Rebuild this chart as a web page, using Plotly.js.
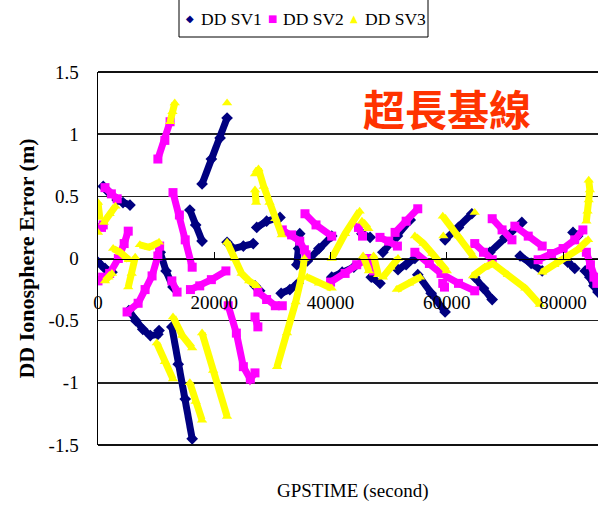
<!DOCTYPE html>
<html>
<head>
<meta charset="utf-8">
<script src="https://cdn.plot.ly/plotly-3.0.1.min.js"></script>
<style>html,body{margin:0;padding:0;background:#fff;}#chart{width:598px;height:506px;}</style>
</head>
<body>
<div id="chart"></div>
<script>
// Series names
const seriesNames = ['DD SV1', 'DD SV2', 'DD SV3'];
// Axis tick labels
const xTickVals = [0, 20000, 40000, 60000, 80000];
const xTickText = ['0', '20000', '40000', '60000', '80000'];
const yTickVals = [-1.5, -1, -0.5, 0, 0.5, 1, 1.5];
const yTickText = ['-1.5', '-1', '-0.5', '0', '0.5', '1', '1.5'];

// DD SV1 values [GPS time (s), error (m)]; null separates arcs
const sv1Points = [
  [0,-0.03],[1200,-0.08],[2400,-0.11], null,
  [900,0.58],[1500,0.55], null,
  [3300,0.47],[4300,0.45],[5500,0.43], null,
  [5300,-0.42],[6500,-0.5],[7700,-0.57],[9000,-0.62],[10300,-0.61],[10500,-0.58], null,
  [10700,0.05],[11700,-0.1],[12900,-0.23], null,
  [12700,-0.55],[13800,-0.85],[15000,-1.13],[16200,-1.45], null,
  [15800,0.39],[16800,0.27],[17900,0.14], null,
  [17900,0.6],[19500,0.8],[21000,0.97],[22200,1.13], null,
  [22200,0.13],[23200,0.08],[25000,0.1],[26700,0.12], null,
  [27300,0.25],[29000,0.3],[31300,0.33], null,
  [27000,-0.22],[27800,-0.26], null,
  [31500,-0.28],[33000,-0.25],[34400,-0.2], null,
  [34200,-0.05],[34500,0.08],[34700,0.2], null,
  [36000,-0.02],[38000,0.08],[40200,0.18], null,
  [40200,-0.15],[42000,-0.11],[44000,-0.07], null,
  [45400,0.2],[46800,0.17], null,
  [47000,-0.15],[48500,-0.2], null,
  [49000,0.05],[51500,0.18],[53700,0.31], null,
  [51600,-0.09],[53000,-0.05],[54500,0.0], null,
  [55000,-0.13],[57300,-0.28],[59700,-0.43], null,
  [59700,0.15],[62000,0.25],[64300,0.36], null,
  [64800,-0.15],[66300,-0.24],[67800,-0.33], null,
  [67400,0.05],[70000,0.17],[72900,0.29], null,
  [72600,0.02],[74500,-0.04],[76400,-0.1], null,
  [80800,-0.03],[82000,-0.08], null,
  [81700,0.21],[82500,0.18], null,
  [83800,-0.1],[84600,-0.15],[85300,-0.22],[86000,-0.27]
];

// DD SV2 values
const sv2Points = [
  [0,-0.18],[800,-0.15], null,
  [600,0.25],[900,0.27], null,
  [1200,0.57],[2300,0.52],[3300,0.48], null,
  [2000,-0.12],[3500,0.0],[4500,0.12],[5200,0.22], null,
  [5000,-0.43],[6900,-0.36],[8100,-0.25],[9300,-0.14],[10300,0.02],[10600,0.1], null,
  [10300,0.8],[11500,0.95],[12400,1.1], null,
  [12700,-0.18],[13600,-0.27], null,
  [12900,0.53],[14000,0.35],[15000,0.15],[16200,-0.07], null,
  [15900,-0.25],[17500,-0.22],[19500,-0.17],[22000,-0.1], null,
  [22400,-0.38],[23800,-0.6],[25000,-0.87],[26200,-0.97],[27000,-0.92], null,
  [27000,-0.47],[27500,-0.55], null,
  [27500,-0.27],[29000,-0.33],[30500,-0.38],[31700,-0.38], null,
  [31700,0.23],[33300,0.19],[34700,0.14],[35500,0.07],[35800,0.03], null,
  [35600,0.36],[37500,0.27],[40200,0.18], null,
  [40000,-0.19],[42500,-0.12],[44500,-0.05],[46300,0.0], null,
  [44800,0.25],[45500,0.18], null,
  [46700,-0.03],[47400,-0.1], null,
  [48500,0.17],[50000,0.14],[51500,0.1], null,
  [51100,0.21],[53000,0.3],[55000,0.4], null,
  [54500,0.05],[57000,-0.04],[59000,-0.12],[62000,-0.2],[64800,-0.26], null,
  [59300,-0.2],[59600,-0.23], null,
  [64800,0.12],[66300,0.05],[67800,-0.01], null,
  [67800,0.32],[69500,0.23],[71200,0.15], null,
  [71700,0.26],[74000,0.18],[76400,0.1], null,
  [75700,-0.01],[78000,0.04],[80000,0.08],[82000,0.15],[83400,0.23], null,
  [84000,0.05],[84700,-0.05],[85300,-0.15],[85800,-0.2]
];

// DD SV3 values
const sv3Points = [
  [0,0.45],[300,0.33], null,
  [0,0.21], null,
  [1000,0.29],[2000,0.36],[3000,0.42], null,
  [1200,-0.18],[1800,-0.15],[2400,-0.12], null,
  [2600,0.08],[3800,0.05],[5300,-0.01], null,
  [5200,-0.23],[5800,-0.12],[6400,0.01], null,
  [7200,0.11],[8800,0.09],[10500,0.13], null,
  [10100,-0.68],[11500,-0.83],[12900,-0.97], null,
  [12400,1.1],[12800,1.18],[13200,1.25], null,
  [12900,-0.47],[14500,-0.62],[16200,-0.72], null,
  [15800,-1.0],[16800,-1.15],[17900,-1.3], null,
  [17900,-0.6],[19800,-0.9],[22200,-1.27], null,
  [22200,1.25], null,
  [22200,0.13],[23500,0.0],[24700,-0.12],[26000,-0.18],[27300,-0.22], null,
  [27000,0.68],[27600,0.72],[28500,0.58],[29500,0.45],[30500,0.32],[31600,0.19], null,
  [27000,0.55],[27200,0.45], null,
  [30800,-0.87],[32500,-0.6],[34000,-0.35],[35000,-0.15],[35500,0.0], null,
  [36000,-0.15],[38000,-0.2],[40200,-0.24], null,
  [40200,0.0],[42500,0.2],[45000,0.38], null,
  [45400,0.3],[46500,0.24], null,
  [45600,0.02],[46600,-0.1], null,
  [47400,0.02],[48200,-0.13], null,
  [49000,-0.15],[50300,-0.07],[51600,0.0], null,
  [51400,-0.25],[53500,-0.2],[55400,-0.15], null,
  [54500,0.18],[56000,0.12],[57500,0.04],[59000,-0.04],[60000,-0.1], null,
  [59300,0.34],[62000,0.18],[64500,0.02], null,
  [59400,0.18], null,
  [64800,0.37], null,
  [64500,-0.14],[66500,-0.07],[67900,-0.04],[70500,-0.13],[73500,-0.24],[76000,-0.37], null,
  [76400,-0.11],[78500,-0.05],[80500,0.0],[82500,0.07],[84300,0.15], null,
  [84400,0.63],[84600,0.55],[84400,0.47],[84200,0.38],[84000,0.3]
];

const colors = ['#000080', '#ff00ff', '#ffff00'];
const symbols = ['diamond', 'square', 'triangle-up'];
const legendGlyphs = ['\u25C6', '\u25A0', '\u25B2'];
const allPoints = [sv1Points, sv2Points, sv3Points];

const serif = 'Liberation Serif, serif';

const traces = [];
allPoints.forEach((pts, i) => {
  traces.push({
    type: 'scatter',
    mode: 'lines+markers',
    name: seriesNames[i],
    x: pts.map(p => p ? p[0] : null),
    y: pts.map(p => p ? p[1] : null),
    line: {color: colors[i], width: 7},
    marker: {color: colors[i], symbol: symbols[i], size: 9},
    connectgaps: false,
    showlegend: false,
    hoverinfo: 'skip'
  });
});

// pixel -> paper helpers for the plot area (l=98, t=72, w=500, h=373)
const px = v => (v - 98) / 500;
const py = v => (445 - v) / 373;

const annotations = [
  {
    xref: 'paper', yref: 'paper', x: 0.698, y: 0.906,
    xanchor: 'center', yanchor: 'middle', showarrow: false,
    text: '<b>超長基線</b>',
    font: {family: 'Noto Sans CJK TC, Noto Sans CJK SC, sans-serif', size: 42, color: '#ff3300'}
  },
  {
    xref: 'paper', yref: 'paper', x: 0.508, y: -0.123,
    xanchor: 'center', yanchor: 'middle', showarrow: false,
    text: 'GPSTIME (second)',
    font: {family: serif, size: 19, color: '#000'}
  }
];
const legendSymbolX = [190, 272, 354];
const legendTextX = [199, 281, 363];
seriesNames.forEach((name, i) => {
  annotations.push({
    xref: 'paper', yref: 'paper', x: px(legendSymbolX[i]), y: py(19),
    xanchor: 'center', yanchor: 'middle', showarrow: false,
    text: legendGlyphs[i],
    font: {family: 'DejaVu Sans, sans-serif', size: 10, color: colors[i]}
  });
  annotations.push({
    xref: 'paper', yref: 'paper', x: px(legendTextX[i]), y: py(19),
    xanchor: 'left', yanchor: 'middle', showarrow: false,
    text: name,
    font: {family: serif, size: 17.5, color: '#000'}
  });
});

const layout = {
  width: 598, height: 506,
  margin: {l: 98, r: 0, t: 72, b: 61, autoexpand: false},
  paper_bgcolor: '#ffffff',
  plot_bgcolor: '#ffffff',
  font: {family: serif, color: '#000'},
  showlegend: false,
  xaxis: {
    range: [0, 86000],
    anchor: 'free', position: 0.5,
    showgrid: false, zeroline: false,
    showline: true, linecolor: '#000', linewidth: 1.5,
    ticks: 'inside', ticklen: 7, tickcolor: '#000', tickwidth: 1,
    tickvals: xTickVals, ticktext: xTickText,
    tickfont: {family: serif, size: 19, color: '#000'},
    ticklabelstandoff: 26
  },
  yaxis: {
    range: [-1.5, 1.5],
    showgrid: true, gridcolor: '#222', gridwidth: 1.5,
    zeroline: false,
    showline: true, linecolor: '#000', linewidth: 1.5,
    ticks: '',
    tickvals: yTickVals, ticktext: yTickText,
    tickfont: {family: serif, size: 19, color: '#000'},
    ticklabelstandoff: 14,
    title: {text: '<b>DD Ionosphere Error (m)</b>', font: {family: serif, size: 22, color: '#000'}, standoff: 8}
  },
  shapes: [
    {type: 'line', xref: 'paper', yref: 'paper', x0: 0, x1: 1, y0: 1, y1: 1, line: {color: '#111', width: 2}, layer: 'above'},
    {type: 'line', xref: 'paper', yref: 'paper', x0: 0, x1: 1, y0: 0, y1: 0, line: {color: '#111', width: 2}, layer: 'above'},
    {type: 'rect', xref: 'paper', yref: 'paper', x0: px(179), x1: px(428), y0: py(37), y1: py(-3),
     line: {color: '#000', width: 1}, fillcolor: '#ffffff', layer: 'above'}
  ],
  annotations: annotations
};

Plotly.newPlot('chart', traces, layout, {displayModeBar: false, staticPlot: true});
</script>
</body>
</html>
